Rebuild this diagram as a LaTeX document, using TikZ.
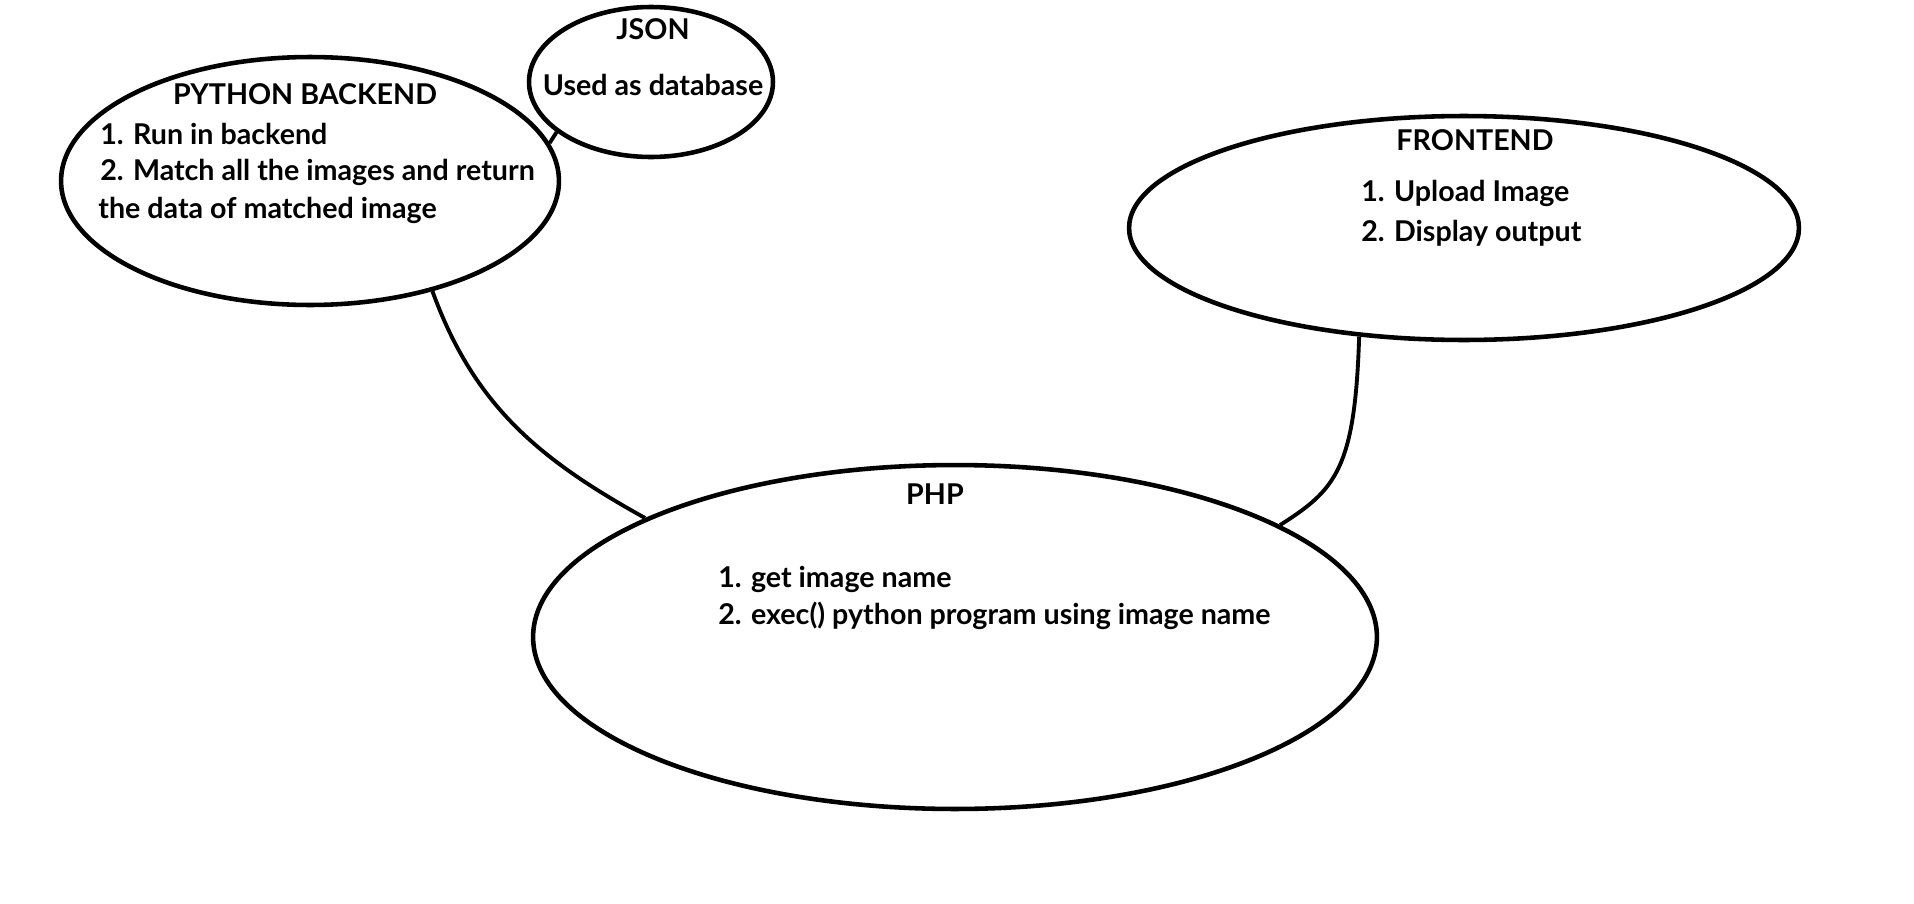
\documentclass[tikz,border=0pt]{standalone}
\usepackage{fontspec}
\setmainfont{Lato}
\usepackage{tikz}
\usetikzlibrary{shapes.geometric}

\tikzset{
  blob/.style={draw, ellipse, line width=2.6pt, inner sep=0pt},
  link/.style={line width=2.2pt},
  txt/.style={font=\fontsize{16.3}{20}\selectfont\bfseries, inner sep=0pt}
}

\begin{document}
\begin{tikzpicture}[x=0.02cm, y=-0.02cm]
\useasboundingbox (0,0) rectangle (1914,903);
\node[blob, minimum width=9.96cm, minimum height=4.96cm] (py) at (310,181) {};
\node[blob, minimum width=4.88cm, minimum height=3.0cm] (json) at (651,82) {};
\node[blob, minimum width=13.4cm, minimum height=4.48cm] (fe) at (1464,228) {};
\node[blob, minimum width=16.88cm, minimum height=6.88cm] (php) at (955,637) {};

\node[txt] (jsonT) at (653,29) {JSON};
\node[txt] (jsonA) at (653,85) {Used as database};

\node[txt] (pyT) at (305,94) {PYTHON BACKEND};
\node[txt, anchor=west] (pyA) at (100,134) {1. Run in backend};
\node[txt, anchor=west] (pyB) at (100,172) {2. Match all the images and return};
\node[txt, anchor=west] (pyC) at (98,210) {the data of matched image};

\node[txt] (feT) at (1475,140) {FRONTEND};
\node[txt, anchor=west] (feA) at (1361,193) {1. Upload Image};
\node[txt, anchor=west] (feB) at (1361,233) {2. Display output};

\node[txt] (phpT) at (935,494) {PHP};
\node[txt, anchor=west] (phpA) at (718,579) {1. get image name};
\node[txt, anchor=west] (phpB) at (718,616) {2. exec() python program using image name};

\draw[link] (py.9) -- (json.208);
\draw[link] (py.-42) to[out=-70, in=151] (php.159);
\draw[link] (fe.-134) .. controls (1355,470) and (1335,490) .. (php.19);
\end{tikzpicture}
\end{document}
